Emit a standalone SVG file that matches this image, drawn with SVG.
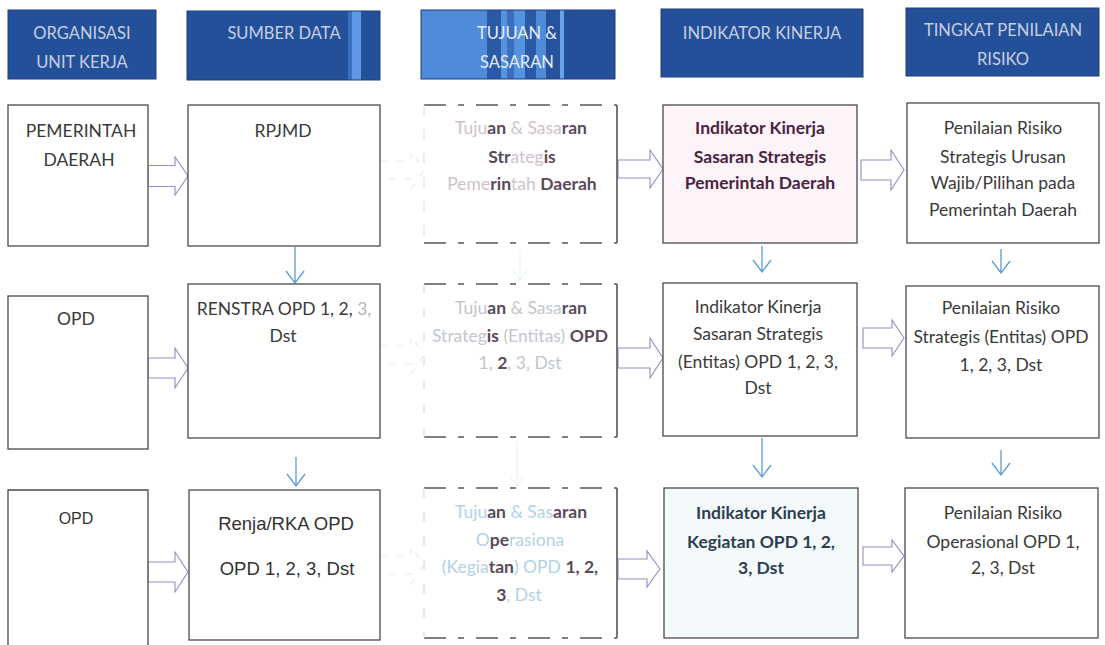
<svg xmlns="http://www.w3.org/2000/svg" width="1105" height="645" viewBox="0 0 1105 645">
  <style>
    .hdr { stroke: #1b3f78; stroke-width: 1; }
    .htxt { font-family: Lato, "Open Sans", sans-serif; font-size: 16.5px; fill: #c5cfe2; text-anchor: middle; }
    .box { fill: #ffffff; stroke: #4a4a4a; stroke-width: 1.3; }
    .dedge { fill: none; stroke: #555555; stroke-width: 1.6; stroke-dasharray: 22 12 6 12; }
    .fedge { fill: none; stroke: #dcdcdc; stroke-width: 1.2; stroke-dasharray: 10 14; }
    .t { font-family: Lato, "Open Sans", sans-serif; font-size: 17.5px; fill: #3a3a3a; text-anchor: middle; }
    .ta { font-family: "Liberation Sans", Arial, sans-serif; fill: #333333; text-anchor: middle; }
    .f1 { fill: #cdc2cc; }
    .f2 { fill: #c2c7ce; }
    .f3 { fill: #b2d2e6; }
    .dk { fill: #5a4a5a; font-weight: bold; }
    .barrow { fill: #ffffff; stroke: #958cc9; stroke-width: 1.1; }
    .faint { fill: none; stroke: #e0eef3; stroke-width: 1.2; stroke-dasharray: 6 10; }
    .down { fill: none; stroke: #5b9bd5; stroke-width: 1.3; }
    .fdown { fill: none; stroke: #e9f4f6; stroke-width: 1.2; }
  </style>
  <defs>
    <linearGradient id="g3" gradientUnits="userSpaceOnUse" x1="421" y1="0" x2="615" y2="0">
      <stop offset="0" stop-color="#4f8bd9"/>
      <stop offset="0.34" stop-color="#4f8bd9"/>
      <stop offset="0.34" stop-color="#2a5aa6"/>
      <stop offset="0.41" stop-color="#2a5aa6"/>
      <stop offset="0.41" stop-color="#5592e0"/>
      <stop offset="0.445" stop-color="#5592e0"/>
      <stop offset="0.445" stop-color="#3a6fbe"/>
      <stop offset="0.48" stop-color="#3a6fbe"/>
      <stop offset="0.48" stop-color="#5592e0"/>
      <stop offset="0.536" stop-color="#5592e0"/>
      <stop offset="0.536" stop-color="#2a5aa6"/>
      <stop offset="0.593" stop-color="#2a5aa6"/>
      <stop offset="0.593" stop-color="#4f8bd9"/>
      <stop offset="0.644" stop-color="#4f8bd9"/>
      <stop offset="0.644" stop-color="#27539c"/>
      <stop offset="0.716" stop-color="#27539c"/>
      <stop offset="0.716" stop-color="#6aa2ea"/>
      <stop offset="0.735" stop-color="#6aa2ea"/>
      <stop offset="0.735" stop-color="#24509a"/>
      <stop offset="1" stop-color="#24509a"/>
    </linearGradient>
    <linearGradient id="g2" gradientUnits="userSpaceOnUse" x1="187" y1="0" x2="380" y2="0">
      <stop offset="0" stop-color="#24509a"/>
      <stop offset="0.834" stop-color="#24509a"/>
      <stop offset="0.834" stop-color="#3a6fbe"/>
      <stop offset="0.855" stop-color="#3a6fbe"/>
      <stop offset="0.855" stop-color="#5f98e4"/>
      <stop offset="0.902" stop-color="#5f98e4"/>
      <stop offset="0.902" stop-color="#24509a"/>
      <stop offset="1" stop-color="#24509a"/>
    </linearGradient>
  </defs>
  <rect width="1105" height="645" fill="#ffffff"/>

  <!-- Headers -->
  <g id="h1">
    <rect class="hdr" x="8" y="10" width="148" height="69" fill="#24509a"/>
    <text class="htxt" x="82" y="39">ORGANISASI</text>
    <text class="htxt" x="82" y="68">UNIT KERJA</text>
  </g>
  <g id="h2">
    <rect class="hdr" x="187" y="11" width="193" height="69" fill="url(#g2)"/>
    <text class="htxt" x="284" y="39">SUMBER DATA</text>
  </g>
  <g id="h3">
    <rect class="hdr" x="421" y="10" width="194" height="69" fill="url(#g3)"/>
    <text class="htxt" x="517" y="39" style="fill:#e6ecf7">TUJUAN &amp;</text>
    <text class="htxt" x="517" y="68" style="fill:#e6ecf7">SASARAN</text>
  </g>
  <g id="h4">
    <rect class="hdr" x="661" y="9" width="202" height="68" fill="#24509a"/>
    <text class="htxt" x="762" y="39">INDIKATOR KINERJA</text>
  </g>
  <g id="h5">
    <rect class="hdr" x="906" y="8" width="193" height="68" fill="#24509a"/>
    <text class="htxt" x="1003" y="36">TINGKAT PENILAIAN</text>
    <text class="htxt" x="1003" y="65">RISIKO</text>
  </g>

  <!-- Connectors -->
  <g id="connectors">
    <!-- block arrows row 1 -->
    <path class="barrow" d="M148,165.5 H175 V157 L188,176 L175,195 V186.5 H148 Z"/>
    <path class="faint" d="M381,161 H411 V151 L424,170 L411,189 V179 H381"/>
    <path class="barrow" d="M618,160 H650 V150 L663,169 L650,188 V178 H618 Z"/>
    <path class="barrow" d="M861,160 H891 V150 L904,170 L891,190 V180 H861 Z"/>
    <!-- block arrows row 2 -->
    <path class="barrow" d="M148,358 H175 V348 L188,368 L175,388 V378 H148 Z"/>
    <path class="faint" d="M381,346 H411 V336 L424,355 L411,374 V364 H381"/>
    <path class="barrow" d="M618,348 H650 V338 L663,358 L650,378 V368 H618 Z"/>
    <path class="barrow" d="M863,328 H892 V320 L904,338 L892,356 V348 H863 Z"/>
    <!-- block arrows row 3 -->
    <path class="barrow" d="M148,562 H175 V552 L188,572 L175,592 V582 H148 Z"/>
    <path class="faint" d="M381,556 H411 V546 L424,565 L411,584 V574 H381"/>
    <path class="barrow" d="M618,559 H647 V551 L660,569 L647,587 V579 H618 Z"/>
    <path class="barrow" d="M863,547 H892 V540 L904,556 L892,572 V565 H863 Z"/>

    <!-- down arrows -->
    <path class="down" d="M295,247 V283 M286,271 L295,283 L304,271"/>
    <path class="down" d="M296,457 V486 M287,474 L296,486 L305,474"/>
    <path class="down" d="M762,246 V272 M753,260 L762,272 L771,260"/>
    <path class="down" d="M762,438 V477 M753,465 L762,477 L771,465"/>
    <path class="down" d="M1001,249 V273 M992,261 L1001,273 L1010,261"/>
    <path class="down" d="M1001,450 V475 M992,463 L1001,475 L1010,463"/>
    <path class="fdown" d="M520,250 V280 M513,270 L520,280 L527,270"/>
    <path class="fdown" d="M517,442 V486 M510,476 L517,486 L524,476"/>
  </g>

  <!-- Column 1 -->
  <g id="n-pemda">
    <rect class="box" x="8" y="105" width="140" height="141"/>
    <text class="t" x="81" y="137">PEMERINTAH</text>
    <text class="t" x="79" y="166">DAERAH</text>
  </g>
  <g id="n-opd2">
    <rect class="box" x="8" y="296" width="140" height="153"/>
    <text class="t" x="76" y="325">OPD</text>
  </g>
  <g id="n-opd3">
    <path class="box" d="M8,650 V490 H148 V650"/>
    <text class="ta" x="76" y="524" font-size="16">OPD</text>
  </g>

  <!-- Column 2 -->
  <g id="n-rpjmd">
    <rect class="box" x="188" y="105" width="192" height="141"/>
    <text class="t" x="283" y="137">RPJMD</text>
  </g>
  <g id="n-renstra">
    <rect class="box" x="188" y="284" width="192" height="154"/>
    <text class="t" x="284" y="315">RENSTRA OPD 1, 2, <tspan fill="#b5b5b5">3,</tspan></text>
    <text class="t" x="283" y="342">Dst</text>
  </g>
  <g id="n-renja">
    <rect class="box" x="189" y="490" width="191" height="150"/>
    <text class="ta" x="286" y="530" font-size="18.5">Renja/RKA OPD</text>
    <text class="ta" x="287" y="575" font-size="18.5">OPD 1, 2, 3, Dst</text>
  </g>

  <!-- Column 3 (faded) -->
  <g id="n-tujuan1">
    <rect x="424" y="105" width="193" height="138" fill="#ffffff"/>
    <path class="dedge" d="M424,105 H617 M424,243 H617"/>
    <path class="fedge" d="M424,105 V243"/>
    <line x1="617" y1="105" x2="617" y2="243" stroke="#555555" stroke-width="1.6"/>
    <text class="t f1" x="521" y="134">Tuju<tspan class="dk">an</tspan> &amp; Sasa<tspan class="dk">ran</tspan></text>
    <text class="t f1" x="522" y="163"><tspan class="dk">Str</tspan>ateg<tspan class="dk">is</tspan></text>
    <text class="t f1" x="522" y="190">Peme<tspan class="dk">rin</tspan>tah <tspan class="dk">Daerah</tspan></text>
  </g>
  <g id="n-tujuan2">
    <rect x="424" y="284" width="193" height="153" fill="#ffffff"/>
    <path class="dedge" d="M424,284 H617 M424,437 H617"/>
    <path class="fedge" d="M424,284 V437"/>
    <line x1="617" y1="284" x2="617" y2="437" stroke="#555555" stroke-width="1.6"/>
    <text class="t f2" x="521" y="314">Tuju<tspan class="dk">an</tspan> &amp; Sasa<tspan class="dk">ran</tspan></text>
    <text class="t f2" x="520" y="342">Strateg<tspan class="dk">is</tspan> (Entitas) <tspan class="dk">OPD</tspan></text>
    <text class="t f2" x="520" y="369">1, <tspan class="dk">2</tspan>, 3, Dst</text>
  </g>
  <g id="n-tujuan3">
    <rect x="424" y="488" width="193" height="150" fill="#ffffff"/>
    <path class="dedge" d="M424,488 H617 M424,638 H617"/>
    <path class="fedge" d="M424,488 V638"/>
    <line x1="617" y1="488" x2="617" y2="638" stroke="#555555" stroke-width="1.6"/>
    <text class="t f3" x="521" y="518">Tuju<tspan class="dk">an</tspan> &amp; Sas<tspan class="dk">aran</tspan></text>
    <text class="t f3" x="520" y="546">O<tspan class="dk">pe</tspan>rasiona</text>
    <text class="t f3" x="520" y="573">(Kegia<tspan class="dk">tan</tspan>) OPD <tspan class="dk">1, 2,</tspan></text>
    <text class="t f3" x="519" y="601"><tspan class="dk">3</tspan>, Dst</text>
  </g>

  <!-- Column 4 -->
  <g id="n-ik1">
    <rect class="box" x="663" y="105" width="194" height="138" style="fill:#fcf4f8"/>
    <text class="t" x="760" y="134" style="fill:#4a2342;font-weight:bold">Indikator Kinerja</text>
    <text class="t" x="760" y="163" style="fill:#4a2342;font-weight:bold">Sasaran Strategis</text>
    <text class="t" x="760" y="189" style="fill:#4a2342;font-weight:bold">Pemerintah Daerah</text>
  </g>
  <g id="n-ik2">
    <rect class="box" x="663" y="283" width="194" height="153"/>
    <text class="t" x="758" y="313">Indikator Kinerja</text>
    <text class="t" x="758" y="340">Sasaran Strategis</text>
    <text class="t" x="758" y="368">(Entitas) OPD 1, 2, 3,</text>
    <text class="t" x="758" y="394">Dst</text>
  </g>
  <g id="n-ik3">
    <rect class="box" x="664" y="488" width="194" height="150" style="fill:#f4fafc"/>
    <text class="t" x="761" y="519" style="fill:#2e3d50;font-weight:bold">Indikator Kinerja</text>
    <text class="t" x="761" y="548" style="fill:#2e3d50;font-weight:bold">Kegiatan OPD 1, 2,</text>
    <text class="t" x="761" y="574" style="fill:#2e3d50;font-weight:bold">3, Dst</text>
  </g>

  <!-- Column 5 -->
  <g id="n-pr1">
    <rect class="box" x="907" y="103" width="192" height="140"/>
    <text class="t" x="1003" y="134">Penilaian Risiko</text>
    <text class="t" x="1003" y="163">Strategis Urusan</text>
    <text class="t" x="1003" y="189">Wajib/Pilihan pada</text>
    <text class="t" x="1003" y="216">Pemerintah Daerah</text>
  </g>
  <g id="n-pr2">
    <rect class="box" x="906" y="286" width="193" height="152"/>
    <text class="t" x="1001" y="314">Penilaian Risiko</text>
    <text class="t" x="1001" y="343">Strategis (Entitas) OPD</text>
    <text class="t" x="1001" y="371">1, 2, 3, Dst</text>
  </g>
  <g id="n-pr3">
    <rect class="box" x="905" y="488" width="193" height="150"/>
    <text class="t" x="1003" y="519">Penilaian Risiko</text>
    <text class="t" x="1003" y="548">Operasional OPD 1,</text>
    <text class="t" x="1003" y="574">2, 3, Dst</text>
  </g>
</svg>
